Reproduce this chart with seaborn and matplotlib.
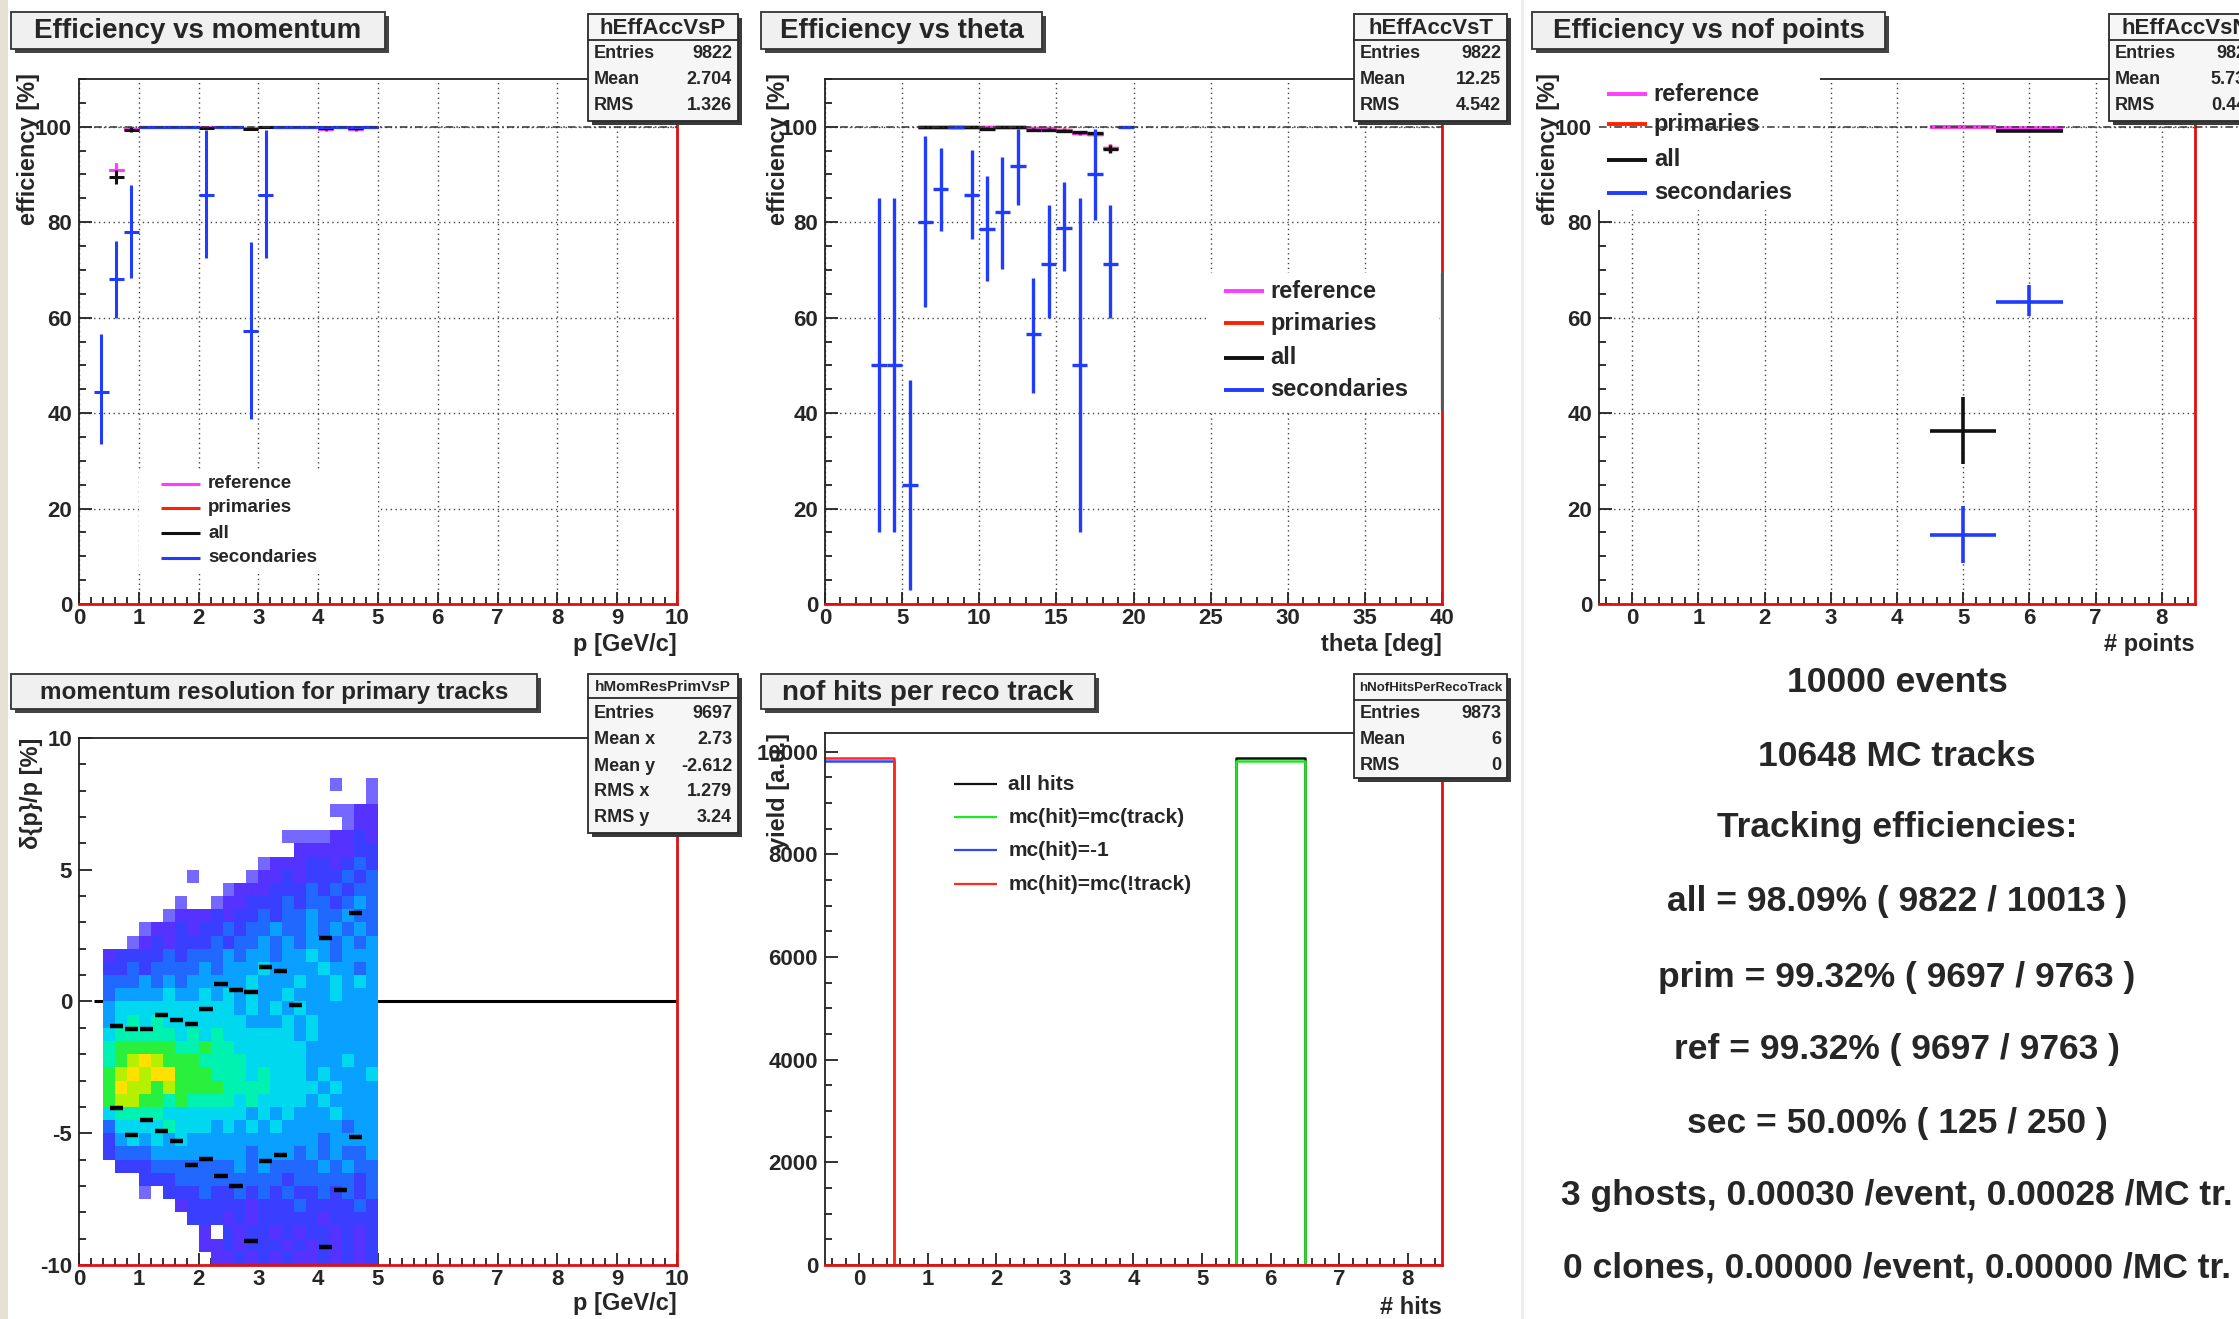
import numpy as np
import pandas as pd
import matplotlib
matplotlib.use("Agg")
import matplotlib.pyplot as plt
import seaborn as sns
from matplotlib.patches import Rectangle
from matplotlib.lines import Line2D
from matplotlib.colors import ListedColormap, BoundaryNorm
from matplotlib.ticker import MultipleLocator

sns.set_theme(style="white")
plt.rcParams["font.family"] = ["Liberation Sans", "DejaVu Sans"]
plt.rcParams["font.weight"] = "bold"
plt.rcParams["axes.unicode_minus"] = False

# ====================== DATA ======================
# --- Efficiency vs momentum (bins of 0.25 GeV/c) ---
p_hw = 0.125
p_ref_x = [0.625, 0.875, 1.125, 1.375, 1.625, 1.875, 2.125, 2.375, 2.625,
           2.875, 3.125, 3.375, 3.625, 3.875, 4.125, 4.375, 4.625, 4.875]
p_ref_y = [91.0, 99.6, 100, 100, 100, 100, 100, 100, 100,
           99.8, 100, 100, 100, 100, 99.5, 100, 99.5, 100]
p_ref_e = [1.5, 0.4, 0, 0, 0, 0, 0, 0, 0, 0.2, 0, 0, 0, 0, 0.4, 0, 0.4, 0]
p_prim_y = [91.0, 99.6, 100, 100, 100, 100, 100, 100, 100,
            99.8, 100, 100, 100, 100, 99.5, 100, 99.5, 100]
p_all_y = [89.5, 99.4, 100, 100, 100, 100, 99.8, 100, 100,
           99.6, 100, 100, 100, 100, 99.7, 100, 99.7, 100]
p_all_e = [1.4, 0.5, 0, 0, 0, 0, 0.2, 0, 0, 0.3, 0, 0, 0, 0, 0.3, 0, 0.3, 0]
p_sec_x = [0.375, 0.625, 0.875, 1.125, 1.375, 1.625, 1.875, 2.125, 2.375, 2.625,
           2.875, 3.125, 3.375, 3.625, 3.875, 4.125, 4.375, 4.625, 4.875]
p_sec_y = [44.5, 68.0, 78.0, 100, 100, 100, 100, 85.8, 100, 100,
           57.3, 85.8, 100, 100, 100, 100, 100, 100, 100]
p_sec_lo = [33.5, 60.0, 68.3, 100, 100, 100, 100, 72.6, 100, 100,
            38.8, 72.6, 100, 100, 100, 100, 100, 100, 100]
p_sec_hi = [56.5, 76.0, 87.7, 100, 100, 100, 100, 99.3, 100, 100,
            75.8, 99.3, 100, 100, 100, 100, 100, 100, 100]

# --- Efficiency vs theta (bins of 1 deg) ---
t_hw = 0.5
t_ref_x = [6.5, 7.5, 8.5, 9.5, 10.5, 11.5, 12.5, 13.5, 14.5, 15.5, 16.5, 17.5, 18.5]
t_ref_y = [100, 100, 100, 100, 100, 100, 100, 99.7, 99.7, 99.4, 98.6, 98.5, 95.5]
t_ref_e = [0, 0, 0, 0, 0, 0, 0, 0.2, 0.2, 0.3, 0.4, 0.4, 0.8]
t_prim_y = [100, 100, 100, 100, 100, 100, 100, 99.7, 99.7, 99.4, 98.6, 98.5, 95.5]
t_all_y = [100, 100, 100, 100, 99.6, 100, 100, 99.4, 99.4, 99.2, 98.8, 98.6, 95.3]
t_all_e = [0, 0, 0, 0, 0.3, 0, 0, 0.3, 0.3, 0.3, 0.4, 0.4, 0.8]
t_sec_x = [3.5, 4.5, 5.5, 6.5, 7.5, 8.5, 9.5, 10.5, 11.5, 12.5, 13.5, 14.5,
           15.5, 16.5, 17.5, 18.5, 19.5]
t_sec_y = [50, 50, 25, 80, 86.9, 100, 85.7, 78.5, 82.1, 91.8, 56.5, 71.2,
           78.8, 50, 90.2, 71.2, 100]
t_sec_lo = [15, 15, 3, 62.3, 78.1, 100, 76.5, 67.7, 70.2, 83.7, 44.2, 60,
            69.7, 15, 80.4, 60, 100]
t_sec_hi = [85, 85, 47, 98.1, 95.6, 100, 95.2, 89.7, 93.7, 99.6, 68.4, 83.6,
            88.4, 85, 99.6, 83.6, 100]

# --- Efficiency vs nof points ---
n_hw = 0.5
n_x = [5, 6]
n_ref_y = [100, 99.8]
n_prim_y = [100, 99.6]
n_all_y = [36.3, 99.2]
n_all_lo = [29.4, 98.9]
n_all_hi = [43.4, 99.5]
n_sec_y = [14.4, 63.2]
n_sec_lo = [8.6, 60.3]
n_sec_hi = [20.6, 66.8]

res_x_edges = [0.4, 0.6, 0.8, 1.0, 1.2, 1.4, 1.6, 1.8, 2.0, 2.2, 2.4, 2.6,
               2.8, 3.0, 3.2, 3.4, 3.6, 3.8, 4.0, 4.2, 4.4, 4.6, 4.8, 5.0]
res_y_edges = [-10.0, -9.5, -9.0, -8.5, -8.0, -7.5, -7.0, -6.5, -6.0, -5.5,
               -5.0, -4.5, -4.0, -3.5, -3.0, -2.5, -2.0, -1.5, -1.0, -0.5,
               0.0, 0.5, 1.0, 1.5, 2.0, 2.5, 3.0, 3.5, 4.0, 4.5,
               5.0, 5.5, 6.0, 6.5, 7.0, 7.5, 8.0, 8.5, 9.0, 9.5, 10.0]
# rows from y=+10 (top) down to y=-10; '.' = empty, 1..9,a,b = rising counts
res_rows = [
    ".......................",
    ".......................",
    ".......................",
    "...................1..1",
    "......................1",
    "...................1122",
    "....................122",
    "...............11112232",
    "................2222233",
    ".............1222332343",
    ".......1....12232333434",
    "..........1222333434344",
    "......1..12233343443454",
    ".....122232334344544544",
    "...12232334344544545454",
    "..123233343445454554545",
    "23333434445455455654555",
    "33434444545556555565545",
    "44454545555565556556565",
    "45555655656565565556555",
    "56666666666565656555555",
    "56767666666655565655555",
    "67777767676666665655555",
    "78888877877666666555555",
    "789a9888777766666555655",
    "89a9aa88877767666565556",
    "8a998988887777666656555",
    "89988787777676666565555",
    "67777666666656565556555",
    "46666766656565655555455",
    "35656565555555555545555",
    "34445555555545554545445",
    ".3334444444545444454544",
    "...33344444444434444434",
    "...1.333433434343343434",
    "......23333323334333343",
    ".......3332323333323333",
    "........2.3233232332323",
    "........223233323232323",
    ".........22323232232323",
]
res_dash_x = [0.625, 0.875, 1.125, 1.375, 1.625, 1.875, 2.125, 2.375, 2.625,
              2.875, 3.125, 3.375, 3.625, 4.125, 4.625,
              0.625, 0.875, 1.125, 1.375, 1.625, 1.875, 2.125, 2.375, 2.625,
              2.875, 3.125, 3.375, 4.125, 4.375, 4.625]
res_dash_y = [-0.93, -1.05, -1.05, -0.50, -0.72, -0.86, -0.29, 0.66, 0.45,
              0.37, 1.30, 1.17, -0.13, 2.40, 3.35,
              -4.04, -5.08, -4.49, -4.93, -5.29, -6.20, -5.98, -6.63, -6.99,
              -9.10, -6.04, -5.84, -9.30, -7.15, -5.14]
res_zero_from = 0.25
res_zero_to = 10.0

# --- nof hits per reco track ---
hits_centers = [0, 1, 2, 3, 4, 5, 6, 7, 8]
hits_edges = [-0.5, 0.5, 1.5, 2.5, 3.5, 4.5, 5.5, 6.5, 7.5, 8.5]
hits_all = [0, 0, 0, 0, 0, 0, 9873, 0, 0]
hits_mc_track = [0, 0, 0, 0, 0, 0, 9822, 0, 0]
hits_mc_minus1 = [9822, 0, 0, 0, 0, 0, 0, 0, 0]
hits_mc_nottrack = [9873, 0, 0, 0, 0, 0, 0, 0, 0]

summary_lines = [
    "10000 events",
    "10648 MC tracks",
    "Tracking efficiencies:",
    "all = 98.09% ( 9822 / 10013 )",
    "prim = 99.32% ( 9697 / 9763 )",
    "ref = 99.32% ( 9697 / 9763 )",
    "sec = 50.00% ( 125 / 250 )",
    "3 ghosts, 0.00030 /event, 0.00028 /MC tr.",
    "0 clones, 0.00000 /event, 0.00000 /MC tr.",
]

# ====================== STYLE ======================
C_REF = "#ff3cff"
C_PRIM = "#ff2200"
C_ALL = "#111111"
C_SEC = "#1f3cff"
C_GREEN = "#1ee81e"
C_HBLUE = "#3344ff"
C_HRED = "#ff2a1a"
C_SPINE_RED = "#e01010"
res_colors = ["#7468ff", "#5632ff", "#3a3eff", "#2168ff", "#0aa0ff",
              "#00d8f0", "#00f2b0", "#28f03c", "#b4f000", "#ffe000", "#ff4a00"]

W, H, DPI = 2239, 1319, 100
fig = plt.figure(figsize=(W / DPI, H / DPI), dpi=DPI)
fig.patch.set_facecolor("white")


def fx(x):
    return x / W


def fy(y):
    return 1 - y / H


def frect(x0, y0, x1, y1, **kw):
    fig.add_artist(Rectangle((fx(x0), fy(y1)), (x1 - x0) / W, (y1 - y0) / H,
                             transform=fig.transFigure, **kw))


def fline(xs, ys, **kw):
    fig.add_artist(Line2D([fx(v) for v in xs], [fy(v) for v in ys],
                          transform=fig.transFigure, **kw))


def ftext(x, y, s, **kw):
    fig.text(fx(x), fy(y), s, **kw)


def make_ax(x0, y0, x1, y1):
    return fig.add_axes([fx(x0), fy(y1), (x1 - x0) / W, (y1 - y0) / H])


def style_ax(ax, xlim, ylim, xmaj, xmin, ymaj, ymin, grid=True):
    ax.set_xlim(*xlim)
    ax.set_ylim(*ylim)
    ax.xaxis.set_major_locator(MultipleLocator(xmaj))
    ax.xaxis.set_minor_locator(MultipleLocator(xmin))
    ax.yaxis.set_major_locator(MultipleLocator(ymaj))
    ax.yaxis.set_minor_locator(MultipleLocator(ymin))
    ax.tick_params(which="both", direction="in", top=False, right=False,
                   bottom=True, left=True, labelsize=16, width=1.3, color="#222222")
    ax.tick_params(which="major", length=9)
    ax.tick_params(which="minor", length=5)
    ax.tick_params(axis="x", pad=3)
    ax.tick_params(axis="y", pad=5)
    for s in ("left", "top"):
        ax.spines[s].set_color("#222222")
        ax.spines[s].set_linewidth(1.3)
    for s in ("bottom", "right"):
        ax.spines[s].set_color(C_SPINE_RED)
        ax.spines[s].set_linewidth(2.0)
    ax.set_facecolor("white")
    ax.set_axisbelow(True)
    if grid:
        ax.grid(True, which="major", linestyle=(0, (1, 2.5)), color="#444444", lw=1.0)
    else:
        ax.grid(False)


def axis_titles(ax, xlab, ylab, ylab_x, xlab_y):
    ax.text(1.0, xlab_y, xlab, transform=ax.transAxes, ha="right", va="center",
            fontsize=17, fontweight="bold")
    ax.text(ylab_x, 1.012, ylab, transform=ax.transAxes, ha="center", va="top",
            rotation=90, fontsize=17, fontweight="bold")


def eff(ax, x, y, lo, hi, hw, color, lw, z):
    x = np.asarray(x, float)
    y = np.asarray(y, float)
    yerr = [y - np.asarray(lo, float), np.asarray(hi, float) - y]
    ax.errorbar(x, y, xerr=hw, yerr=yerr, fmt="none", ecolor=color,
                elinewidth=lw, capsize=0, zorder=z)


def legend(ax, entries, x0, x1, xt, ys, fs, lw, z=6):
    for (lab, col), yy in zip(entries, ys):
        ax.plot([x0, x1], [yy, yy], color=col, lw=lw, transform=ax.transAxes,
                clip_on=False, zorder=z, solid_capstyle="butt")
        ax.text(xt, yy, lab, transform=ax.transAxes, ha="left", va="center",
                fontsize=fs, fontweight="bold", zorder=z)


def white_box(ax, x0, y0, x1, y1, z):
    ax.add_patch(Rectangle((x0, y0), x1 - x0, y1 - y0, transform=ax.transAxes,
                           facecolor="white", edgecolor="none", zorder=z, clip_on=False))


def title_box(x0, y0, x1, y1, text, fs):
    frect(x0 + 4, y0 + 4, x1 + 4, y1 + 4, facecolor="#444444", edgecolor="none", zorder=20)
    frect(x0, y0, x1, y1, facecolor="#f0f0f0", edgecolor="#333333", linewidth=1.3, zorder=21)
    ftext((x0 + x1) / 2, (y0 + y1) / 2 + 1, text, ha="center", va="center",
          fontsize=fs, fontweight="bold", zorder=22)


def stats_box(x0, y0, x1, y1, name, name_fs, div_y, rows, row_fs=13):
    frect(x0 + 4, y0 + 4, x1 + 4, y1 + 4, facecolor="#3a3a3a", edgecolor="none", zorder=20)
    frect(x0, y0, x1, y1, facecolor="#f6f6f6", edgecolor="#2a2a2a", linewidth=1.3, zorder=21)
    ftext((x0 + x1) / 2, (y0 + div_y) / 2 + 1, name, ha="center", va="center",
          fontsize=name_fs, fontweight="bold", zorder=22)
    fline([x0, x1], [div_y, div_y], color="#2a2a2a", lw=1.3, zorder=22)
    for lab, val, yy in rows:
        ftext(x0 + 6, yy, lab, ha="left", va="center", fontsize=row_fs,
              fontweight="bold", zorder=22)
        ftext(x1 - 6, yy, val, ha="right", va="center", fontsize=row_fs,
              fontweight="bold", zorder=22)


def ref_line(ax, x0, x1, clip=True):
    ax.plot([x0, x1], [100, 100], color="#333333", lw=1.1,
            linestyle=(0, (5, 2, 1, 2)), zorder=7, clip_on=clip)


legend_entries = [("reference", C_REF), ("primaries", C_PRIM),
                  ("all", C_ALL), ("secondaries", C_SEC)]

# background decorations
frect(0, 0, 8, H, facecolor="#e6e1d5", edgecolor="none", zorder=0)
fline([1522, 1522], [0, H], color="#ececec", lw=2, zorder=0)

# ====================== PANEL 1 ======================
ax1 = make_ax(79, 79, 677, 604)
style_ax(ax1, (0, 10), (0, 110), 1, 0.2, 20, 5)
white_box(ax1, 0.1, 0.059, 0.5, 0.254, 1.5)
ref_line(ax1, 0, 10)
p_ref_lo = np.array(p_ref_y) - np.array(p_ref_e)
p_ref_hi = np.array(p_ref_y) + np.array(p_ref_e)
eff(ax1, p_ref_x, p_prim_y, p_ref_lo, p_ref_hi, p_hw, C_PRIM, 2.2, 3)
eff(ax1, p_ref_x, p_ref_y, p_ref_lo, p_ref_hi, p_hw, C_REF, 2.2, 3.1)
eff(ax1, p_ref_x, p_all_y, np.array(p_all_y) - np.array(p_all_e),
    np.array(p_all_y) + np.array(p_all_e), p_hw, C_ALL, 2.2, 3.2)
eff(ax1, p_sec_x, p_sec_y, p_sec_lo, p_sec_hi, p_hw, C_SEC, 2.2, 3.3)
legend(ax1, legend_entries, 0.137, 0.202, 0.216, [0.229, 0.183, 0.135, 0.088], 13.5, 2.2)
axis_titles(ax1, "p [GeV/c]", "efficiency [%]", -0.085, -0.078)
title_box(11, 12, 385, 49, "Efficiency vs momentum", 20)
stats_box(588, 14, 738, 121, "hEffAccVsP", 16, 40,
          [("Entries", "9822", 53), ("Mean", "2.704", 79), ("RMS", "1.326", 106)])

# ====================== PANEL 2 ======================
ax2 = make_ax(825, 79, 1442, 604)
style_ax(ax2, (0, 40), (0, 110), 5, 1, 20, 5)
white_box(ax2, 0.62, 0.37, 0.995, 0.63, 1.5)
ax2.plot([1, 1], [0.37, 0.63], transform=ax2.transAxes, color="#555555", lw=1.6,
         clip_on=False, zorder=5)
ref_line(ax2, 0, 40)
t_ref_lo = np.array(t_ref_y) - np.array(t_ref_e)
t_ref_hi = np.array(t_ref_y) + np.array(t_ref_e)
eff(ax2, t_ref_x, t_prim_y, t_ref_lo, t_ref_hi, t_hw, C_PRIM, 2.4, 3)
eff(ax2, t_ref_x, t_ref_y, t_ref_lo, t_ref_hi, t_hw, C_REF, 2.4, 3.1)
eff(ax2, t_ref_x, t_all_y, np.array(t_all_y) - np.array(t_all_e),
    np.array(t_all_y) + np.array(t_all_e), t_hw, C_ALL, 2.4, 3.2)
eff(ax2, t_sec_x, t_sec_y, t_sec_lo, t_sec_hi, t_hw, C_SEC, 2.4, 3.3)
legend(ax2, legend_entries, 0.647, 0.711, 0.722, [0.596, 0.535, 0.469, 0.408], 17, 2.8)
axis_titles(ax2, "theta [deg]", "efficiency [%]", -0.076, -0.078)
title_box(761, 12, 1042, 49, "Efficiency vs theta", 20)
stats_box(1354, 14, 1507, 121, "hEffAccVsT", 16, 40,
          [("Entries", "9822", 53), ("Mean", "12.25", 79), ("RMS", "4.542", 106)])

# ====================== PANEL 3 ======================
ax3 = make_ax(1599, 79, 2195, 604)
style_ax(ax3, (-0.5, 8.5), (0, 110), 1, 0.2, 20, 5)
white_box(ax3, -0.006, 0.75, 0.37, 1.01, 3)
ref_line(ax3, -0.5, 9.4, clip=False)
eff(ax3, n_x, n_prim_y, n_prim_y, n_prim_y, n_hw, C_PRIM, 2.6, 3)
eff(ax3, n_x, n_ref_y, n_ref_y, n_ref_y, n_hw, C_REF, 2.6, 3.1)
eff(ax3, n_x, n_all_y, n_all_lo, n_all_hi, n_hw, C_ALL, 2.6, 3.2)
eff(ax3, n_x, n_sec_y, n_sec_lo, n_sec_hi, n_hw, C_SEC, 2.6, 3.3)
legend(ax3, legend_entries, 0.013, 0.08, 0.092, [0.971, 0.914, 0.846, 0.783], 17, 2.8)
axis_titles(ax3, "# points", "efficiency [%]", -0.084, -0.078)
title_box(1532, 12, 1885, 49, "Efficiency vs nof points", 20)
stats_box(2109, 14, 2262, 121, "hEffAccVsN", 16, 40,
          [("Entries", "9822", 53), ("Mean", "5.733", 79), ("RMS", "0.443", 106)])

# ====================== PANEL 4 ======================
ax4 = make_ax(79, 738, 677, 1265)
style_ax(ax4, (0, 10), (-10, 10), 1, 0.2, 5, 1, grid=False)
levels = ".123456789ab"
M = np.array([[levels.index(c) for c in row.ljust(23, ".")[:23]] for row in res_rows[::-1]], float)
M = np.ma.masked_equal(M, 0)
cmap = ListedColormap(res_colors)
norm = BoundaryNorm(np.arange(0.5, len(res_colors) + 1.0, 1.0), cmap.N)
ax4.hlines(0, res_zero_from, res_zero_to, color="black", lw=2.2, zorder=0.8)
ax4.pcolormesh(res_x_edges, res_y_edges, M, cmap=cmap, norm=norm, zorder=1)
dx = np.asarray(res_dash_x)
ax4.hlines(res_dash_y, dx - 0.11, dx + 0.11, color="black", lw=3.2, zorder=3)
ax4.text(1.0, -0.074, "p [GeV/c]", transform=ax4.transAxes, ha="right", va="center",
         fontsize=17, fontweight="bold")
ax4.text(-0.08, 1.0, "\u03b4{p}/p [%]", transform=ax4.transAxes, ha="center", va="top",
         rotation=90, fontsize=17, fontweight="bold")
title_box(11, 674, 537, 709, "momentum resolution for primary tracks", 17.5)
stats_box(588, 674, 738, 833, "hMomResPrimVsP", 11, 698,
          [("Entries", "9697", 713), ("Mean x", "2.73", 740), ("Mean y", "-2.612", 766),
           ("RMS x", "1.279", 792), ("RMS y", "3.24", 818)])

# ====================== PANEL 5 ======================
ax5 = make_ax(825, 733, 1442, 1265)
hist_df = pd.DataFrame({"nhits": hits_centers, "all": hits_all, "good": hits_mc_track,
                        "noise": hits_mc_minus1, "wrong": hits_mc_nottrack})
for col, color in [("all", C_ALL), ("good", C_GREEN), ("noise", C_HBLUE), ("wrong", C_HRED)]:
    sns.histplot(data=hist_df, x="nhits", weights=col, bins=hits_edges, element="step",
                 fill=False, color=color, linewidth=1.8, ax=ax5)
ax5.set_xlabel("")
ax5.set_ylabel("")
style_ax(ax5, (-0.5, 8.5), (0, 10367), 1, 0.2, 2000, 500, grid=False)
legend(ax5, [("all hits", C_ALL), ("mc(hit)=mc(track)", C_GREEN),
             ("mc(hit)=-1", C_HBLUE), ("mc(hit)=mc(!track)", C_HRED)],
       0.209, 0.279, 0.297, [0.904, 0.842, 0.780, 0.716], 15, 1.6)
ax5.text(1.0, -0.079, "# hits", transform=ax5.transAxes, ha="right", va="center",
         fontsize=17, fontweight="bold")
ax5.text(-0.076, 1.0, "yield [a.u.]", transform=ax5.transAxes, ha="center", va="top",
         rotation=90, fontsize=17, fontweight="bold")
title_box(761, 674, 1095, 709, "nof hits per reco track", 20)
stats_box(1354, 674, 1507, 778, "hNofHitsPerRecoTrack", 9.5, 700,
          [("Entries", "9873", 713), ("Mean", "6", 740), ("RMS", "0", 765)])

# ====================== PANEL 6 (summary text) ======================
summary_y = [683, 757, 828, 902, 977, 1050, 1124, 1195, 1268]
for line, yy in zip(summary_lines, summary_y):
    ftext(1897, yy, line, ha="center", va="center", fontsize=25.5, fontweight="bold")

fig.savefig("out.png", dpi=DPI, facecolor="white")
